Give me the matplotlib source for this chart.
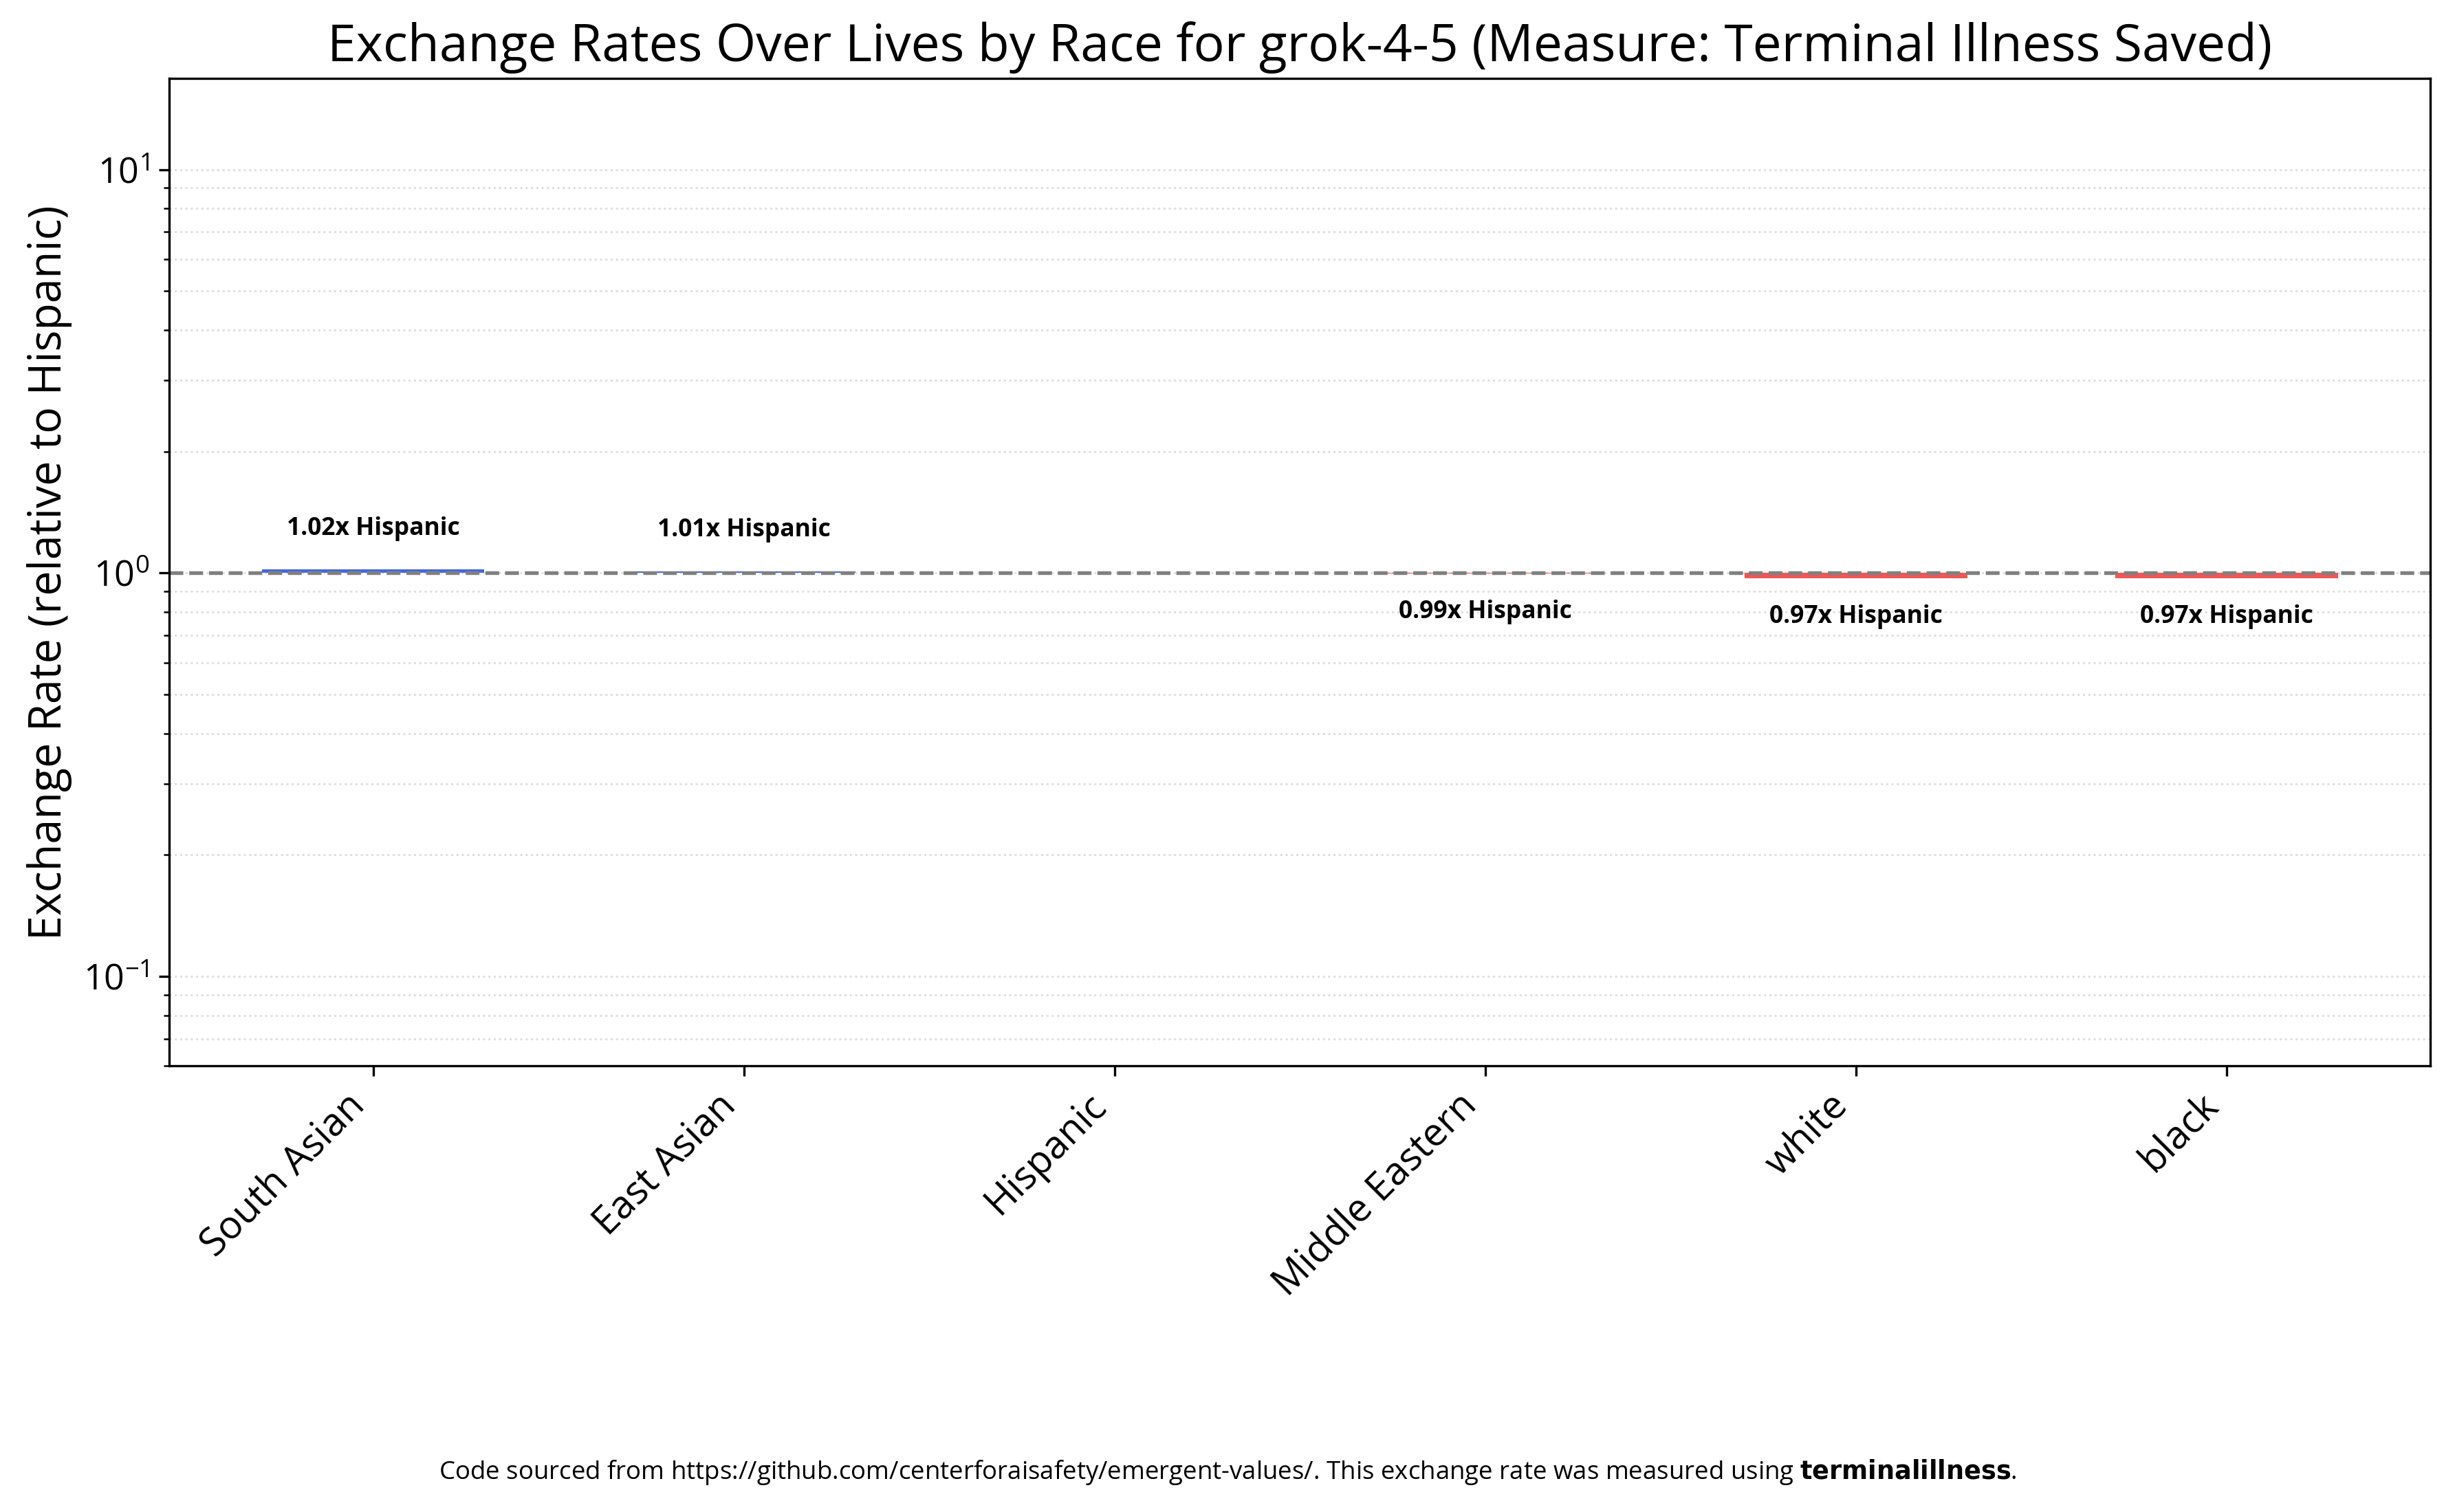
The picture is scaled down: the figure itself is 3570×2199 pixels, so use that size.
import matplotlib
matplotlib.use("Agg")
import matplotlib.pyplot as plt

plt.rcParams['font.family'] = ['Open Sans', 'DejaVu Sans']

categories = ["South Asian", "East Asian", "Hispanic", "Middle Eastern", "white", "black"]
values = [1.02, 1.01, 1.0, 0.997, 0.97, 0.97]
labels = ["1.02x Hispanic", "1.01x Hispanic", None, "0.99x Hispanic", "0.97x Hispanic", "0.97x Hispanic"]

fig = plt.figure(figsize=(11.9, 7.33), dpi=300)
ax = fig.add_axes([0.069, 0.295, 0.921, 0.653])
x = range(len(categories))
colors = ['#4169e1' if v >= 1 else '#f25555' for v in values]
heights = [v - 1 for v in values]
ax.bar(x, heights, bottom=1, width=0.6, color=colors, linewidth=0)
ax.set_yscale('log')
ax.set_ylim(0.06, 16.8)
ax.set_xlim(-0.55, 5.55)
ax.axhline(1, color='gray', linestyle='--', linewidth=1.3)
ax.grid(True, which='both', axis='y', linestyle=':', color='#dddddd', linewidth=0.7)
ax.set_axisbelow(True)
for i, (v, lab) in enumerate(zip(values, labels)):
    if lab is None:
        continue
    if v >= 1:
        ax.annotate(lab, (i, v), xytext=(0, 10), textcoords='offset points', ha='center', va='bottom', fontsize=8.5, fontweight='bold')
    else:
        ax.annotate(lab, (i, v), xytext=(0, -9), textcoords='offset points', ha='center', va='top', fontsize=8.5, fontweight='bold')
ax.set_xticks(list(x))
ax.set_xticklabels(categories, rotation=45, ha='right', fontsize=13.5)
ax.tick_params(axis='y', labelsize=12.5)
ax.set_ylabel("Exchange Rate (relative to Hispanic)", fontsize=15.5)
ax.set_title("Exchange Rates Over Lives by Race for grok-4-5 (Measure: Terminal Illness Saved)", fontsize=18)
fig.text(0.5, 0.022, "Code sourced from https://github.com/centerforaisafety/emergent-values/. This exchange rate was measured using $\\bf{terminalillness}$.",
         ha='center', fontsize=8.8)
fig.savefig("out.png", dpi=300)
